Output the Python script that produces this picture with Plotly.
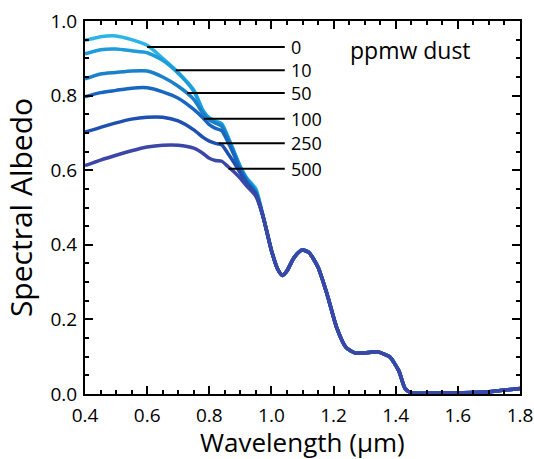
import plotly.graph_objects as go

# Shared wavelength grid (µm)
WAVELENGTH = [0.40, 0.45, 0.50, 0.55, 0.60, 0.65, 0.70, 0.75, 0.78, 0.80, 0.82,
              0.84, 0.86, 0.88, 0.90, 0.92, 0.95]
TAIL_WAVELENGTH = [0.975, 1.0, 1.02, 1.035, 1.05, 1.07, 1.09, 1.10, 1.12, 1.15,
                   1.18, 1.21, 1.24, 1.27, 1.30, 1.34, 1.38, 1.41, 1.43, 1.45,
                   1.50, 1.60, 1.70, 1.80]
TAIL_ALBEDO = [0.470, 0.385, 0.335, 0.318, 0.330, 0.362, 0.382, 0.386, 0.380,
               0.340, 0.265, 0.178, 0.125, 0.110, 0.110, 0.113, 0.100, 0.062,
               0.015, 0.003, 0.002, 0.003, 0.006, 0.015]

DUST_LABELS = ["0", "10", "50", "100", "250", "500"]
ALB_0 = [0.948, 0.958, 0.960, 0.950, 0.935, 0.900, 0.862, 0.815, 0.760, 0.740,
         0.732, 0.725, 0.690, 0.650, 0.610, 0.580, 0.550]
ALB_10 = [0.912, 0.923, 0.925, 0.920, 0.915, 0.895, 0.860, 0.812, 0.758, 0.738,
          0.730, 0.722, 0.688, 0.648, 0.608, 0.578, 0.545]
ALB_50 = [0.845, 0.858, 0.862, 0.866, 0.866, 0.850, 0.825, 0.790, 0.752, 0.735,
          0.726, 0.718, 0.684, 0.645, 0.605, 0.575, 0.542]
ALB_100 = [0.797, 0.808, 0.814, 0.820, 0.821, 0.810, 0.793, 0.763, 0.740, 0.722,
           0.712, 0.706, 0.676, 0.640, 0.600, 0.570, 0.538]
ALB_250 = [0.702, 0.715, 0.727, 0.737, 0.742, 0.742, 0.732, 0.708, 0.688, 0.678,
           0.672, 0.668, 0.645, 0.620, 0.592, 0.565, 0.535]
ALB_500 = [0.612, 0.627, 0.640, 0.652, 0.662, 0.667, 0.667, 0.659, 0.645, 0.632,
           0.626, 0.624, 0.610, 0.595, 0.578, 0.558, 0.530]
SERIES = [ALB_0, ALB_10, ALB_50, ALB_100, ALB_250, ALB_500]

COLORS = ["#2BB5E6", "#1E9BD9", "#1A80C9", "#1766C0", "#1D50B0", "#3B46A6"]

# Leader lines for labels: start wavelength and albedo level
LABEL_START = [0.60, 0.692, 0.729, 0.782, 0.830, 0.862]
LABEL_LEVEL = [0.930, 0.868, 0.807, 0.738, 0.672, 0.604]
LABEL_END = 1.043
LABEL_TEXT_X = 1.063

FONT = "Open Sans"

fig = go.Figure()
for name, vals, col in zip(DUST_LABELS, SERIES, COLORS):
    fig.add_trace(go.Scatter(
        x=WAVELENGTH + TAIL_WAVELENGTH, y=vals + TAIL_ALBEDO,
        mode="lines", name=name,
        line=dict(color=col, width=3.5, shape="spline", smoothing=0.6),
        showlegend=False, hoverinfo="skip"))

for name, x0, yv in zip(DUST_LABELS, LABEL_START, LABEL_LEVEL):
    fig.add_shape(type="line", x0=x0, x1=LABEL_END, y0=yv, y1=yv,
                  xref="x", yref="y", line=dict(color="black", width=2))
    fig.add_annotation(x=LABEL_TEXT_X, y=yv, text=name, showarrow=False,
                       xanchor="left", yanchor="middle",
                       xshift=-2, font=dict(family=FONT, size=18, color="black"))

fig.add_annotation(x=1.252, y=0.922, text="ppmw dust", showarrow=False,
                   xanchor="left", yanchor="middle", xshift=-2,
                   font=dict(family=FONT, size=23, color="black"))

# x-axis title placed as a paper-anchored annotation below the tick labels
fig.add_annotation(x=0.5, y=-0.128, xref="paper", yref="paper",
                   text="Wavelength (μm)", showarrow=False,
                   xanchor="center", yanchor="middle",
                   font=dict(family=FONT, size=26, color="black"))

axis_common = dict(
    showline=True, linecolor="black", linewidth=2, mirror="allticks",
    ticks="inside", ticklen=8, tickwidth=1.5, tickcolor="black",
    showgrid=False, zeroline=False, automargin=False,
    ticklabeloverflow="allow",
    tickfont=dict(family=FONT, size=19, color="black"),
)

fig.update_xaxes(range=[0.4, 1.8], tick0=0.4, dtick=0.2, tickformat=".1f",
                 ticklabelstandoff=3,
                 minor=dict(dtick=0.05, ticks="inside", ticklen=4,
                            tickwidth=1.5, tickcolor="black"),
                 **axis_common)
fig.update_yaxes(range=[0.0, 1.0], tick0=0, dtick=0.2, tickformat=".1f",
                 ticklabelstandoff=2,
                 minor=dict(dtick=0.05, ticks="inside", ticklen=4,
                            tickwidth=1.5, tickcolor="black"),
                 title=dict(text="Spectral Albedo", standoff=9,
                            font=dict(family=FONT, size=30, color="black")),
                 **axis_common)

fig.update_layout(
    width=534, height=459,
    margin=dict(l=85, r=14, t=21, b=65),
    paper_bgcolor="white", plot_bgcolor="white",
)

fig.write_html("out.html",
               config={"displayModeBar": False},
               post_script="document.body.style.margin='0';"
                           "document.body.style.overflow='hidden';")
